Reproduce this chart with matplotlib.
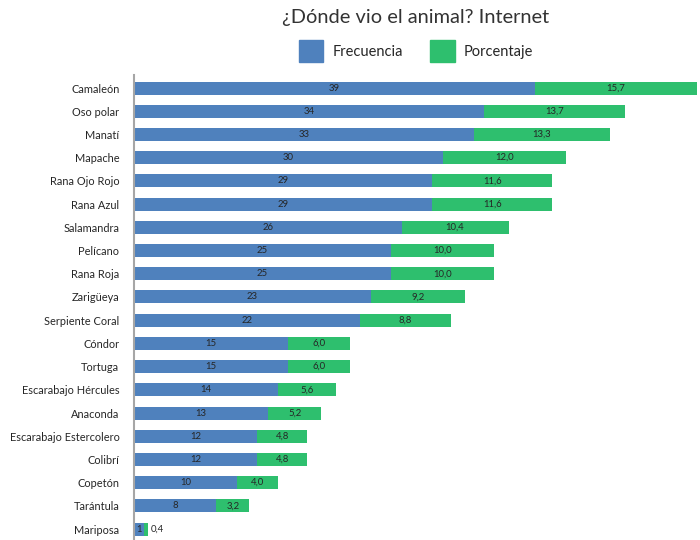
import matplotlib
matplotlib.use("Agg")
import matplotlib.pyplot as plt
from matplotlib.patches import Patch

categories = ["Camaleón", "Oso polar", "Manatí", "Mapache", "Rana Ojo Rojo", "Rana Azul",
              "Salamandra", "Pelícano", "Rana Roja", "Zarigüeya", "Serpiente Coral", "Cóndor",
              "Tortuga", "Escarabajo Hércules", "Anaconda", "Escarabajo Estercolero", "Colibrí",
              "Copetón", "Tarántula", "Mariposa"]
frecuencia = [39, 34, 33, 30, 29, 29, 26, 25, 25, 23, 22, 15, 15, 14, 13, 12, 12, 10, 8, 1]
porcentaje = [15.7, 13.7, 13.3, 12.0, 11.6, 11.6, 10.4, 10.0, 10.0, 9.2, 8.8, 6.0, 6.0, 5.6,
              5.2, 4.8, 4.8, 4.0, 3.2, 0.4]

FAM = ["Lato", "DejaVu Sans"]
plt.rcParams['font.family'] = FAM

blue = "#4F81BD"
green = "#2EBF6E"
txt = "#262626"

fig = plt.figure(figsize=(7, 5.4), dpi=100)
renderer = fig.canvas.get_renderer()

def fit_size(s, target_px, base=10):
    t = fig.text(0, 0, s, fontsize=base)
    w = t.get_window_extent(renderer).width
    t.remove()
    return base * target_px / w

lab_size = fit_size("Escarabajo Estercolero", 110)
leg_size = fit_size("Frecuencia", 70)
bar_size = fit_size("15,7", 19)
title_size = fit_size("¿Dónde vio el animal? Internet", 268)

ax = fig.add_axes([134/700, 0.0, 1 - 134/700, 1 - 75/540])

y = list(range(len(categories)))
h = 0.56
ax.barh(y, frecuencia, height=h, color=blue, zorder=2)
ax.barh(y, porcentaje, left=frecuencia, height=h, color=green, zorder=2)

for i, (f, p) in enumerate(zip(frecuencia, porcentaje)):
    ax.text(f / 2, i, str(f), ha="center", va="center", fontsize=bar_size, color=txt)
    ps = f"{p:.1f}".replace(".", ",")
    if p < 1:
        ax.text(f + p + 0.25, i, ps, ha="left", va="center", fontsize=bar_size, color=txt)
    else:
        ax.text(f + p / 2, i, ps, ha="center", va="center", fontsize=bar_size, color=txt)

ax.set_xlim(0, 55)
ax.set_ylim(19.47, -0.56)
ax.set_yticks(y)
ax.set_yticklabels(categories, color=txt, fontsize=lab_size)
ax.tick_params(axis="y", length=0, pad=10.5)
ax.set_xticks([])
for s in ["top", "right", "bottom"]:
    ax.spines[s].set_visible(False)
ax.spines["left"].set_color("#A6A6A6")
ax.spines["left"].set_linewidth(1.5)

fig.text(416/700, 1 - 18/540, "¿Dónde vio el animal? Internet", ha="center", va="center",
         fontsize=title_size, color="#333333")
handles = [Patch(color=blue, label="Frecuencia"), Patch(color=green, label="Porcentaje")]
fig.legend(handles=handles, loc="center", bbox_to_anchor=(416/700, 1 - 51/540), ncol=2,
           frameon=False, fontsize=leg_size, handlelength=1.7, handleheight=1.9,
           handletextpad=0.6, columnspacing=1.9, labelcolor="#262626")

fig.savefig("out.png", dpi=100)
